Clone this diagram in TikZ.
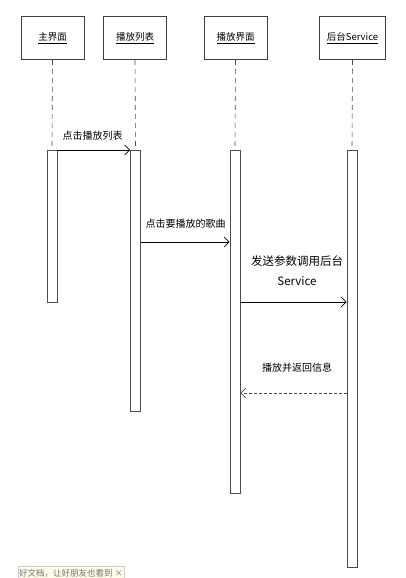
\documentclass[tikz,border=0pt]{standalone}
\usepackage{fontspec}
\setmainfont{Noto Sans CJK SC}
\usetikzlibrary{arrows.meta}
\begin{document}
\begin{tikzpicture}[x=1pt,y=-1pt,
  objbox/.style={draw=black!75,line width=0.8pt,fill=white,minimum width=63pt,minimum height=43pt,inner sep=0pt,font=\fontsize{9.5}{10}\selectfont},
  lifeline/.style={draw=black!70,dash pattern=on 5pt off 4pt,line width=0.6pt},
  act/.style={draw=black!70,line width=0.7pt,fill=white,minimum width=10pt,inner sep=0pt},
  msg/.style={draw=black,line width=0.8pt,-{Straight Barb[length=5pt,width=10pt,line width=0.7pt]}},
  ret/.style={draw=black!70,line width=0.7pt,dash pattern=on 3pt off 2pt,-{Straight Barb[length=5pt,width=10pt,line width=0.7pt]}},
  lbl/.style={font=\fontsize{10}{12}\selectfont,inner sep=0pt,align=center}]
\useasboundingbox (0,0) rectangle (405,578);
\fill[white] (0,0) rectangle (405,578);
% object boxes
\node[objbox] (o1) at (52.5,38) {\underline{主界面}};
\node[objbox] (o2) at (135,38) {\underline{播放列表}};
\node[objbox] (o3) at (235.5,38) {\underline{播放界面}};
\node[objbox,minimum width=66pt] (o4) at (352.5,38) {\underline{后台Service}};
% activation bars
\node[act,minimum height=152pt,anchor=north] (a1) at (52,150) {};
\node[act,minimum height=261pt,anchor=north] (a2) at (135.5,150) {};
\node[act,minimum height=343pt,anchor=north] (a3) at (235,150) {};
\node[act,minimum height=417pt,anchor=north] (a4) at (352,150) {};
% lifelines
\draw[lifeline] (o1.south) -- (a1.north);
\draw[lifeline] (o2.south) -- (a2.north);
\draw[lifeline] (o3.south) -- (a3.north);
\draw[lifeline] (o4.south) -- (a4.north);
% messages
\coordinate (m1s) at (a1.north east);
\coordinate (m1e) at (a2.north west);
\draw[msg] (m1s) -- (m1e);
\node[lbl] (l1) at (92.5,136) {点击播放列表};
\coordinate (m2s) at ([yshift=-92pt]a2.north east);
\coordinate (m2e) at ([yshift=-92pt]a3.north west);
\draw[msg] (m2s) -- (m2e);
\node[lbl] (l2) at (185.5,224) {点击要播放的歌曲};
\coordinate (m3s) at ([yshift=-152pt]a3.north east);
\coordinate (m3e) at ([yshift=-152pt]a4.north west);
\draw[msg] (m3s) -- (m3e);
\node[lbl,font=\fontsize{11.5}{20}\selectfont] (l3) at (297,271) {发送参数调用后台\\Service};
\coordinate (m4s) at ([yshift=-243pt]a4.north west);
\coordinate (m4e) at ([yshift=-243pt]a3.north east);
\draw[ret] (m4s) -- (m4e);
\node[lbl] (l4) at (297,368) {播放并返回信息};
% watermark banner
\node[draw=black!20,fill=yellow!8,anchor=north west,minimum width=106pt,minimum height=14pt,inner sep=1pt,font=\fontsize{8.5}{9}\selectfont,text=black!55] (wm) at (18,566) {好文档，让好朋友也看到 ×};
\end{tikzpicture}
\end{document}
